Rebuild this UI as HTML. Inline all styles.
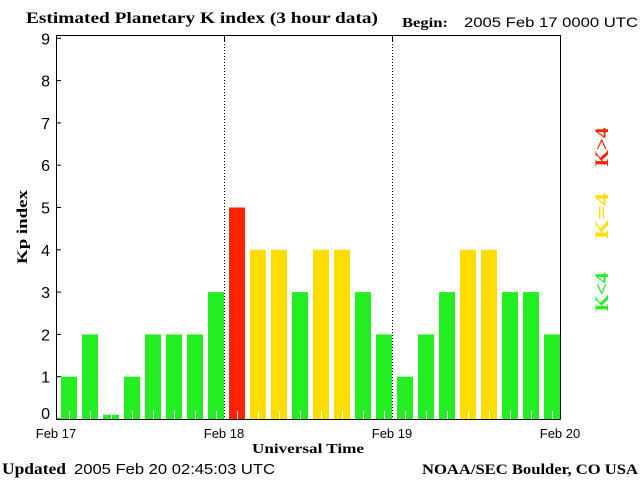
<!DOCTYPE html>
<html><head><meta charset="utf-8"><style>
html,body{margin:0;padding:0;background:#fff;}
svg{display:block;}
.serif{font-family:"Liberation Serif",serif;font-weight:bold;}
.sans{font-family:"Liberation Sans",sans-serif;}
</style></head><body>
<svg id="chart" width="640" height="480" viewBox="0 0 640 480">
<text x="26" y="23" class="serif" font-size="16" textLength="352" lengthAdjust="spacingAndGlyphs">Estimated Planetary K index (3 hour data)</text>
<text x="402" y="27" class="serif" font-size="14" textLength="46" lengthAdjust="spacingAndGlyphs">Begin:</text>
<text x="464" y="27" class="sans" font-size="14" textLength="174" lengthAdjust="spacingAndGlyphs">2005 Feb 17 0000 UTC</text>
<g id="bars"></g>
<g id="axes"></g>
<text transform="translate(27,227) rotate(-90)" text-anchor="middle" class="serif" font-size="15" textLength="74" lengthAdjust="spacingAndGlyphs">Kp index</text>
<text x="308" y="453" text-anchor="middle" class="serif" font-size="14" textLength="112" lengthAdjust="spacingAndGlyphs">Universal Time</text>
<text x="2" y="474" class="serif" font-size="16" textLength="64" lengthAdjust="spacingAndGlyphs">Updated</text>
<text x="74" y="474" class="sans" font-size="15" textLength="201" lengthAdjust="spacingAndGlyphs">2005 Feb 20 02:45:03 UTC</text>
<text x="638" y="474" text-anchor="end" class="serif" font-size="15" textLength="216" lengthAdjust="spacingAndGlyphs">NOAA/SEC Boulder, CO USA</text>
<text transform="translate(608,147) rotate(-90)" text-anchor="middle" class="serif" font-size="19" textLength="39" lengthAdjust="spacingAndGlyphs" fill="#ff2200">K&gt;4</text>
<text transform="translate(608,216) rotate(-90)" text-anchor="middle" class="serif" font-size="19" textLength="46" lengthAdjust="spacingAndGlyphs" fill="#ffdd00">K=4</text>
<text transform="translate(608,292) rotate(-90)" text-anchor="middle" class="serif" font-size="19" textLength="39" lengthAdjust="spacingAndGlyphs" fill="#22ee22">K&lt;4</text>
</svg>
<script>
const kpValues=[1,2,0.1,1,2,2,2,3,5,4,4,3,4,4,3,2,1,2,3,4,4,3,3,2];
const yTicks=[0,1,2,3,4,5,6,7,8,9];
const dayLabels=["Feb 17","Feb 18","Feb 19","Feb 20"];
const NS="http://www.w3.org/2000/svg";
const X0=56,X1=560,Y0=419,YT=35;
const slot=(X1-X0)/kpValues.length;
function xs(i){return X0+i*slot;}
function ys(v){return Y0-v*42.3;}
function mk(tag,attrs,parent){const e=document.createElementNS(NS,tag);for(const k in attrs)e.setAttribute(k,attrs[k]);parent.appendChild(e);return e;}
const bars=document.getElementById('bars'),axes=document.getElementById('axes');
kpValues.forEach((v,i)=>{
  const col=v>4?"#ff2200":(v>=4?"#ffdd00":"#22ee22");
  const top=Math.min(ys(v),Y0-3);
  const r=mk('rect',{x:xs(i)+5,y:top,width:16,height:Y0-top,fill:col},bars);
  
  
  const t=mk('line',{x1:xs(i)+13.5,x2:xs(i)+13.5,y1:Y0-8,y2:Y0,stroke:"#fff","stroke-width":1},bars);
  
  
});
for(let d=1;d<dayLabels.length-1;d++){
  const x=X0+d*(X1-X0)/(dayLabels.length-1)+0.5;
  const l=mk('line',{x1:x,x2:x,y1:YT,y2:Y0,stroke:"#000","stroke-width":1,"stroke-dasharray":"1,2"},axes);
  
  
  const k=mk('line',{x1:x,x2:x,y1:YT,y2:YT+7,stroke:"#000"},axes);
  
  
}
const frame=mk('path',{d:`M${X0+0.5},${YT+0.5}H${X1+0.5}M${X0+0.5},${YT}V${Y0+0.5}H${X1+0.5}M${X1+0.5},${YT}V${Y0+0.5}`,stroke:"#000",fill:"none","stroke-width":1},axes);


yTicks.forEach(v=>{
  const y=ys(v);
  const t=mk('line',{x1:X0,x2:X0+5,y1:y,y2:y,stroke:"#000"},axes);
  
  
  const lb=mk('text',{x:50,y:Math.min(y+6,Y0),"text-anchor":"end","font-size":"16","font-family":"Liberation Sans, sans-serif"},axes);
  lb.textContent=v;
  
  
});
dayLabels.forEach((s,d)=>{
  const x=X0+d*(X1-X0)/(dayLabels.length-1);
  const lb=mk('text',{x:x,y:438,"text-anchor":"middle","font-size":"13","font-family":"Liberation Sans, sans-serif"},axes);
  lb.textContent=s;
  
  
});
</script>
</body></html>
